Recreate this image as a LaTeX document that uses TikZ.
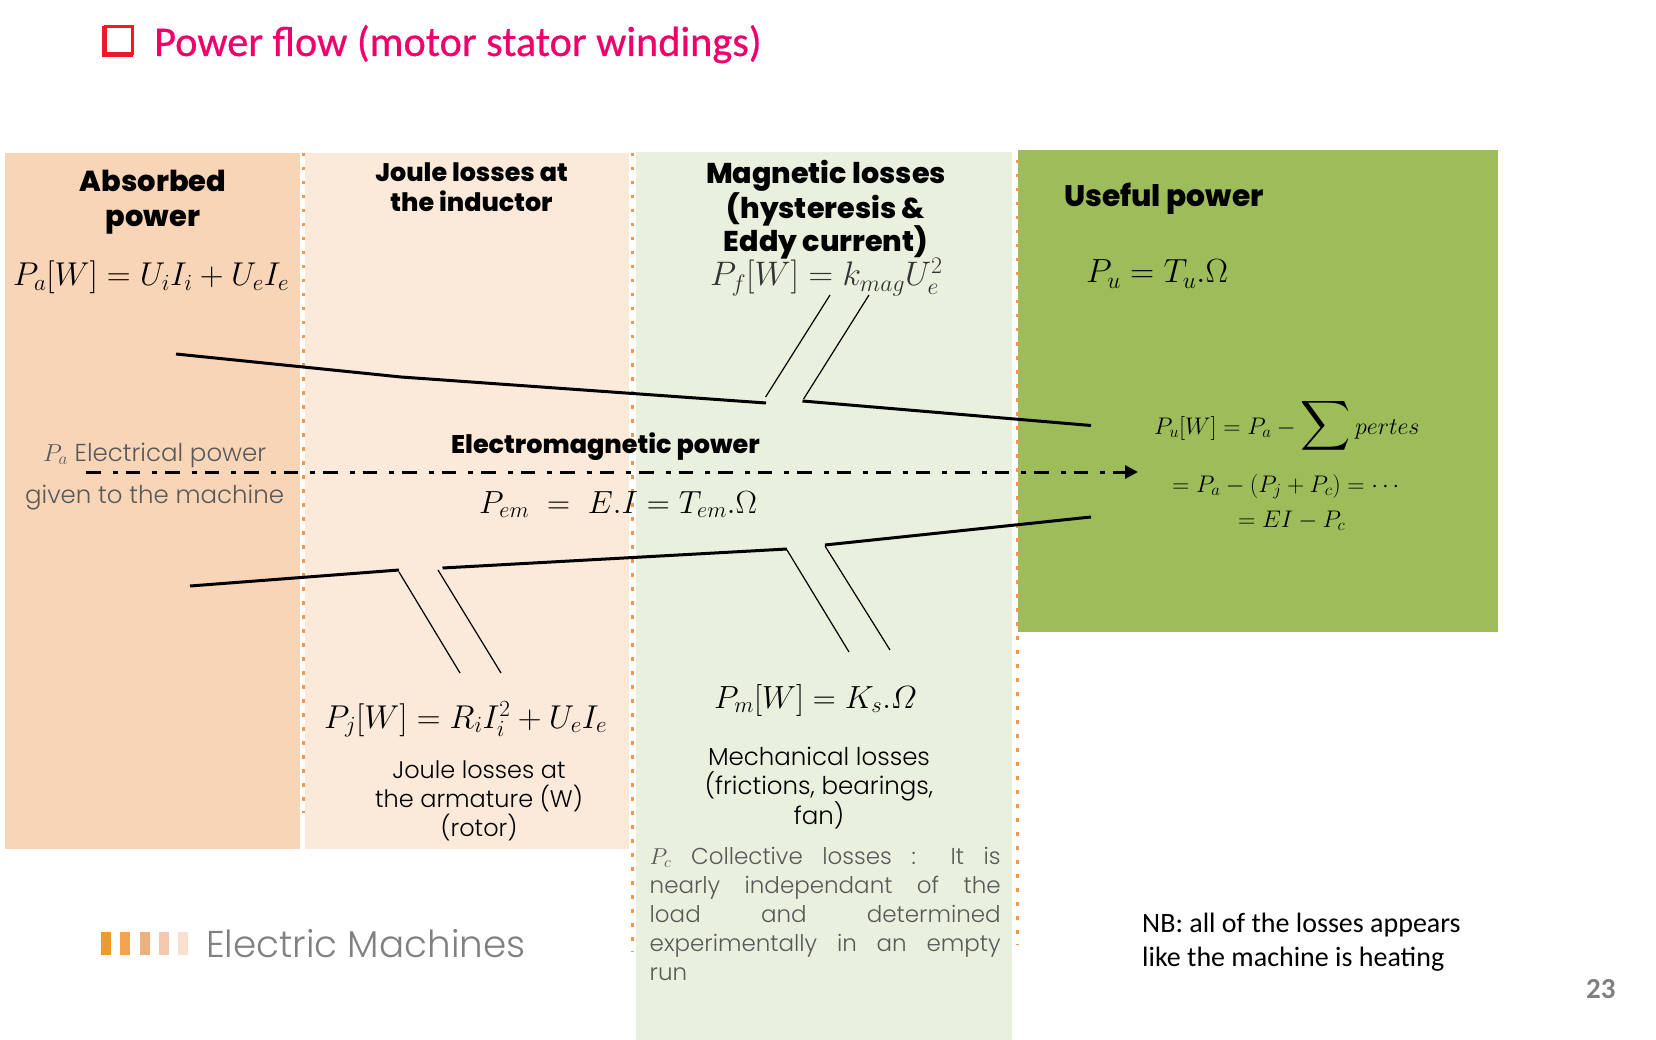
\RequirePackage{fix-cm}
\documentclass[tikz,border=0pt]{standalone}
\usepackage{exscale}
\usepackage{fontspec}
\setmainfont{Poppins}[UprightFont=* Light, BoldFont=* ExtraBold]
\newfontfamily\calibri{Carlito}
\newfontfamily\titlefont{Carlito}[FakeBold=0.6]
\usetikzlibrary{arrows.meta}
\definecolor{pinktitle}{HTML}{F0006B}
\definecolor{boxred}{HTML}{F01A26}
\definecolor{absorbcol}{HTML}{F8D5B7}
\definecolor{joulecol}{HTML}{FBE9DA}
\definecolor{magcol}{HTML}{E9F0DD}
\definecolor{usefulcol}{HTML}{9DBD5B}
\definecolor{dotcol}{HTML}{F5974B}
\definecolor{graytxt}{HTML}{595959}
\definecolor{bar1}{HTML}{F09A2A}
\definecolor{bar2}{HTML}{F1A352}
\definecolor{bar3}{HTML}{EFB080}
\definecolor{bar4}{HTML}{F5C9AD}
\definecolor{bar5}{HTML}{FBE0D0}

\begin{document}
\begin{tikzpicture}[x=1pt, y=-1pt,
	panel/.style={anchor=north west, inner sep=0pt, outer sep=0pt},
	sep/.style={draw=dotcol, line width=3pt, dash pattern=on 3.5pt off 10.5pt},
	flow/.style={line width=3pt},
	branch/.style={line width=1.2pt},
	head/.style={font=\fontsize{#1}{35}\selectfont\bfseries, align=center, inner sep=0pt},
	eq/.style={font=\fontsize{#1}{36}\selectfont, inner sep=0pt, anchor=base west},
	eqs/.style={font=\fontsize{24}{30}\selectfont, inner sep=0pt, anchor=base west},
	txt/.style={font=\fontsize{#1}{29}\selectfont, align=center, inner sep=0pt},
	bar/.style={anchor=north west, inner sep=0pt, minimum width=9.5pt, minimum height=23pt}]
	\useasboundingbox (0,0) rectangle (1656,1040);

	\node[panel, fill=absorbcol, minimum width=295pt, minimum height=696pt] (pa) at (5,153) {};
	\node[panel, fill=joulecol, minimum width=324pt, minimum height=696pt] (pj) at (305,153) {};
	\node[panel, fill=magcol, minimum width=376pt, minimum height=888pt] (pm) at (636,152) {};
	\node[panel, fill=usefulcol, minimum width=480pt, minimum height=482pt] (pu) at (1018,150) {};

	\coordinate (s1a) at (303,153);
	\coordinate (s1b) at (303,813);
	\coordinate (s2a) at (632.5,153);
	\coordinate (s2b) at (632.5,952);
	\coordinate (s3a) at (1017,160);
	\coordinate (s3b) at (1017,945);
	\path[sep] (s1a) edge (s1b);
	\path[sep] (s2a) edge (s2b);
	\path[sep] (s3a) edge (s3b);

	\node[panel, draw=boxred, line width=3pt, fill=white, minimum width=27pt, minimum height=27pt] (box) at (105,27) {};
	\draw[boxred, line width=4pt] ([shift={(-1,-1)}]box.north west) -- ([shift={(-1,1)}]box.south west) -- ([shift={(1,1)}]box.south east);
	\node[font=\titlefont\fontsize{42.3}{48}\selectfont, text=pinktitle, anchor=base west, inner sep=0pt] (title) at (154,56) {Power flow (motor stator windings)};

	\node[head=28.9] (t1) at (153,202) {Absorbed\\power};
	\node[font=\fontsize{25.4}{30}\selectfont\bfseries, align=center, inner sep=0pt] (t2) at (471.5,187) {Joule losses at\\the inductor};
	\node[font=\fontsize{28.6}{33.5}\selectfont\bfseries, align=center, inner sep=0pt] (t3) at (826,210) {Magnetic losses\\(hysteresis \&\\Eddy current)};
	\node[head=29.7, anchor=west] (t4) at (1064,199) {Useful power};
	\node[head=25.5] (t5) at (605.5,447) {Electromagnetic power};

	\node[eq=33] (e1) at (13,286) {$P_a[W]=U_iI_i+U_eI_e$};
	\node[eq=34, text=black!80] (e2) at (710,286) {$P_f[W]=k_{mag}U_e^2$};
	\node[eq=33.5] (e3) at (1086,283) {$P_u=T_u.\Omega$};
	\node[eq=32] (e4) at (479,513) {$P_{em}\;=\;E.I=T_{em}.\Omega$};
	\node[eq=33] (e5) at (324,728) {$P_j[W]=R_iI_i^2+U_eI_e$};
	\node[eq=32] (e6) at (714,708) {$P_m[W]=K_s.\mathnormal{\Omega}$};

	\node[eqs] (e7) at (1154,434) {$P_u[W]=P_a-\mathop{\scalebox{1.4}{$\displaystyle\sum$}} pertes$};
	\node[eqs] (e8) at (1172,492) {$=P_a-\left(P_j+P_c\right)=\cdots$};
	\node[eqs] (e9) at (1238,527) {$=EI-P_c$};

	\node[txt=24.5, text=graytxt, anchor=base west] (d1) at (43,461) {$P_a$ Electrical power};
	\node[txt=24.5, text=graytxt, anchor=base west] (d2) at (25,503) {given to the machine};
	\node[txt=24] (d3) at (479,801) {Joule losses at\\the armature (W)\\(rotor)};
	\node[txt=24.5] (d4) at (819,788) {Mechanical losses\\(frictions, bearings,\\fan)};
	\node[txt=23, text=graytxt, anchor=north west, text width=351pt, align=justify] (d5) at (649.5,847) {$P_c$ Collective losses : It is\linebreak nearly independant of the\linebreak load and determined\linebreak experimentally in an empty\linebreak run};

	\node[bar, fill=bar1] (b1) at (101,932) {};
	\node[bar, fill=bar2] (b2) at (120,932) {};
	\node[bar, fill=bar3] (b3) at (140,932) {};
	\node[bar, fill=bar4] (b4) at (159,932) {};
	\node[bar, fill=bar5] (b5) at (178,932) {};
	\node[font=\fontsize{37.3}{44}\selectfont, text=gray, anchor=base west, inner sep=0pt] (logo) at (206,957) {Electric Machines};

	\node[font=\calibri\fontsize{28}{34}\selectfont, anchor=north west, align=left, inner sep=0pt] (nb) at (1142,913) {NB: all of the losses appears\\like the machine is heating};
	\node[font=\calibri\bfseries\fontsize{29}{32}\selectfont, text=gray, anchor=base west, inner sep=0pt] (num) at (1586,998) {23};

	\coordinate (a1) at (176,354);
	\coordinate (a2) at (401,377);
	\coordinate (a3) at (766,403);
	\coordinate (a4) at (802.5,401);
	\coordinate (a5) at (1091,425.5);
	\coordinate (f1) at (765.6,397);
	\coordinate (f2) at (830,295);
	\coordinate (f3) at (803.6,399);
	\coordinate (f4) at (869,295);
	\draw[flow] (a1) -- (a2) -- (a3);
	\path[flow] (a4) edge (a5);
	\path[branch] (f1) edge (f2);
	\path[branch] (f3) edge (f4);

	\coordinate (m1) at (86,472);
	\coordinate (m2) at (1138,472);
	\draw[line width=3pt, dash pattern=on 14.5pt off 12pt on 5pt off 8pt, -{Triangle[length=13pt, width=13pt]}] (m1) -- (m2);

	\coordinate (c1) at (190,586);
	\coordinate (c2) at (399,570);
	\coordinate (c3) at (442.5,568);
	\coordinate (c4) at (787,549);
	\coordinate (c5) at (825,545);
	\coordinate (c6) at (1091,517);
	\coordinate (j1) at (399,572);
	\coordinate (j2) at (460,673);
	\coordinate (j3) at (438,570);
	\coordinate (j4) at (501,673);
	\coordinate (k1) at (787,550);
	\coordinate (k2) at (849,652);
	\coordinate (k3) at (825,546);
	\coordinate (k4) at (890,650);
	\path[flow] (c1) edge (c2);
	\path[flow] (c3) edge (c4);
	\path[flow] (c5) edge (c6);
	\path[branch] (j1) edge (j2);
	\path[branch] (j3) edge (j4);
	\path[branch] (k1) edge (k2);
	\path[branch] (k3) edge (k4);
\end{tikzpicture}
\end{document}
